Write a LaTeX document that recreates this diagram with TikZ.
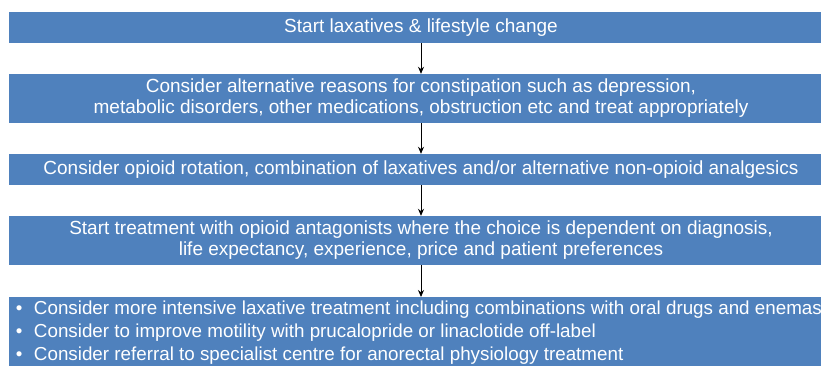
\documentclass[tikz,border=0pt]{standalone}
\usepackage{fontspec}
\setmainfont{Liberation Sans}
\usetikzlibrary{arrows.meta}
\definecolor{boxblue}{RGB}{79,129,189}
\begin{document}
\begin{tikzpicture}[x=1pt,y=1pt,
  flowbox/.style={fill=boxblue, draw=none, text=white, minimum width=824pt, inner sep=0pt, align=center, font=\fontsize{19}{21}\selectfont},
  flowarrow/.style={draw=black, line width=0.8pt, -{Stealth[length=7pt,width=6pt]}}]
\useasboundingbox (0,0) rectangle (821,-365);
\clip (0,0) rectangle (821,-365);
\node[flowbox, minimum height=31pt] (b1) at (421,-27.5) {Start laxatives \& lifestyle change};
\node[flowbox, minimum height=49pt] (b2) at (421,-98.5) {Consider alternative reasons for constipation such as depression,\\metabolic disorders, other medications, obstruction etc and treat appropriately};
\node[flowbox, minimum height=31pt] (b3) at (421,-169.5) {Consider opioid rotation, combination of laxatives and/or alternative non-opioid analgesics};
\node[flowbox, minimum height=49pt] (b4) at (421,-240.5) {Start treatment with opioid antagonists where the choice is dependent on diagnosis,\\life expectancy, experience, price and patient preferences};
\node[flowbox, minimum height=80pt, anchor=north] (b5) at (421,-297) {};
\node[anchor=north west, inner sep=0pt, text=white, align=left, font=\fontsize{18.8}{23}\selectfont] (b5t) at ([xshift=7pt,yshift=-4pt]b5.north west)
 {\makebox[18pt][l]{\textbullet}Consider more intensive laxative treatment including combinations with oral drugs and enemas\\
  \makebox[18pt][l]{\textbullet}Consider to improve motility with prucalopride or linaclotide off-label\\
  \makebox[18pt][l]{\textbullet}Consider referral to specialist centre for anorectal physiology treatment};
\draw[flowarrow] (b1.south) -- (b2.north);
\draw[flowarrow] (b2.south) -- (b3.north);
\draw[flowarrow] (b3.south) -- (b4.north);
\draw[flowarrow] (b4.south) -- (b5.north);
\end{tikzpicture}
\end{document}
